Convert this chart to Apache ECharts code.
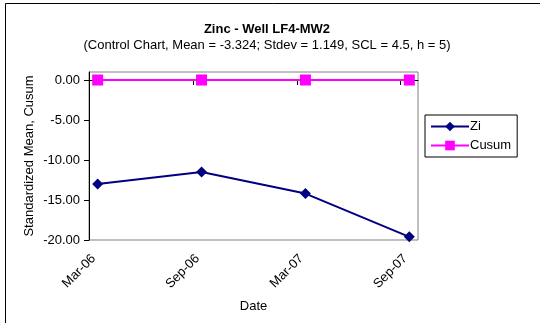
<!DOCTYPE html>
<html>
<head>
<meta charset="utf-8">
<script src="https://cdn.jsdelivr.net/npm/echarts@6/dist/echarts.min.js"></script>
<style>
  html, body { margin: 0; padding: 0; background: #fff; }
  #chart { width: 540px; height: 323px; }
</style>
</head>
<body>
<div id="chart"></div>
<script>
// sample dates (Excel date axis, one slot per month, 6-month major unit)
var dates = ['Mar-06', 'Sep-06', 'Mar-07', 'Sep-07'];
var zi = [-13.0, -11.5, -14.2, -19.6];
var cusum = [0, 0, 0, 0];
var yTicks = [-20, -15, -10, -5, 0];
var monthsPerStep = 6;
var totalMonths = 19;

var font = 'Arial, "Liberation Sans", sans-serif';

// each point sits in the middle of its month slot
function pts(values) {
  return values.map(function (v, i) { return [i * monthsPerStep + 0.5, v]; });
}
var xTicks = dates.map(function (d, i) { return i * monthsPerStep; });

var chart = echarts.init(document.getElementById('chart'));
chart.setOption({
  backgroundColor: '#fff',
  animation: false,
  textStyle: { fontFamily: font, color: '#000' },
  title: [{
    text: 'Zinc - Well LF4-MW2',
    left: 267, top: 23, textAlign: 'center',
    padding: 0,
    textStyle: { fontFamily: font, fontSize: 13, fontWeight: 'bold', color: '#000' }
  }, {
    text: '(Control Chart, Mean = -3.324; Stdev = 1.149, SCL = 4.5, h = 5)',
    left: 267, top: 39, textAlign: 'center',
    padding: 0,
    textStyle: { fontFamily: font, fontSize: 13, fontWeight: 'normal', color: '#000' }
  }],
  graphic: [{
    type: 'rect',
    z: -10,
    shape: { x: 5.5, y: 3.5, width: 600, height: 400 },
    style: { fill: 'none', stroke: '#000', lineWidth: 1 }
  }],
  grid: {
    left: 89, top: 72, width: 329, height: 168,
    show: true, borderColor: '#808080', borderWidth: 1, backgroundColor: '#fff'
  },
  legend: {
    orient: 'vertical',
    left: 425, top: 115,
    padding: [5, 6, 5, 5],
    itemGap: 6,
    itemWidth: 38,
    itemHeight: 12,
    borderColor: '#000',
    borderWidth: 1,
    textStyle: { fontFamily: font, fontSize: 13, color: '#000', padding: [0, 0, 0, -4] },
    data: ['Zi', 'Cusum']
  },
  xAxis: {
    type: 'value',
    min: 0,
    max: totalMonths,
    name: 'Date',
    nameLocation: 'middle',
    nameGap: 60,
    nameMoveOverlap: false,
    nameTextStyle: { fontFamily: font, fontSize: 13, color: '#000' },
    axisLine: { lineStyle: { color: '#000', width: 1 } },
    axisTick: { show: true, length: 5, lineStyle: { color: '#000' }, customValues: xTicks },
    axisLabel: {
      rotate: 45,
      margin: 12,
      verticalAlign: 'top',
      fontFamily: font, fontSize: 13, color: '#000',
      customValues: xTicks,
      formatter: function (v) { return dates[Math.round(v / monthsPerStep)]; }
    },
    splitLine: { show: false }
  },
  yAxis: {
    type: 'value',
    min: -20,
    max: 1,
    name: 'Standardized Mean, Cusum',
    nameLocation: 'middle',
    nameGap: 53,
    nameMoveOverlap: false,
    nameTextStyle: { fontFamily: font, fontSize: 13, color: '#000' },
    axisLine: { show: true, lineStyle: { color: '#000', width: 1 } },
    axisTick: { show: true, length: 5, lineStyle: { color: '#000' }, customValues: yTicks },
    axisLabel: {
      margin: 9,
      fontFamily: font, fontSize: 13, color: '#000',
      customValues: yTicks,
      formatter: function (v) { return v.toFixed(2); }
    },
    splitLine: { show: false }
  },
  series: [{
    name: 'Zi',
    type: 'line',
    data: pts(zi),
    symbol: 'diamond',
    symbolSize: 11,
    lineStyle: { color: '#000080', width: 2 },
    itemStyle: { color: '#000080' }
  }, {
    name: 'Cusum',
    type: 'line',
    data: pts(cusum),
    symbol: 'rect',
    symbolSize: 11,
    lineStyle: { color: '#ff00ff', width: 2 },
    itemStyle: { color: '#ff00ff' }
  }]
});
</script>
</body>
</html>
